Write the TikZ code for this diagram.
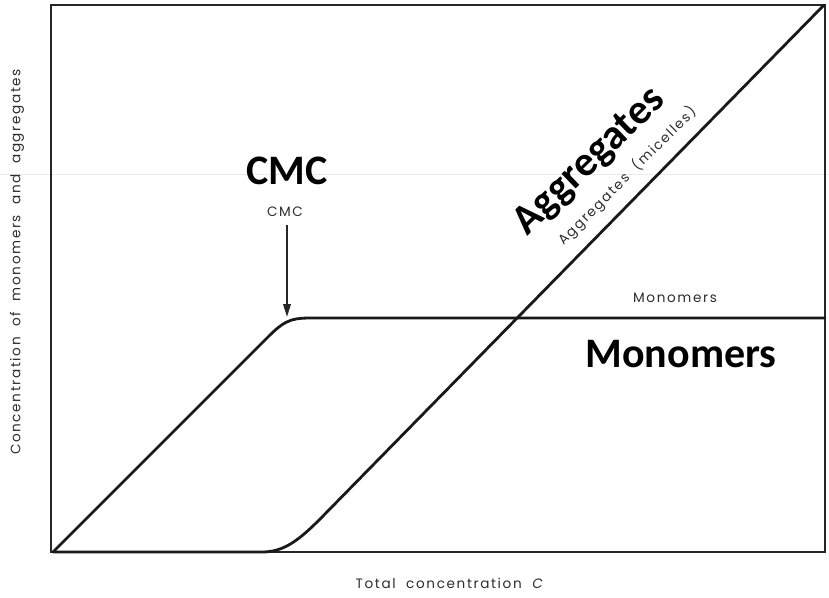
\documentclass[tikz,border=0pt]{standalone}
\usepackage{fontspec}
\setmainfont{Carlito}
\newfontfamily\lblfont[LetterSpace=12]{Poppins}
\usetikzlibrary{arrows.meta}
\begin{document}
\begin{tikzpicture}[x=1pt,y=-1pt,
  axisline/.style={line width=1.4pt,draw=black!85},
  curve/.style={line width=2.8pt,draw=black!90,line join=round,line cap=round},
  small/.style={font=\lblfont\fontsize{13.6}{16}\selectfont,text=black!82,inner sep=0pt},
  big/.style={font=\bfseries\fontsize{42}{48}\selectfont,text=black,inner sep=0pt}]
\useasboundingbox[fill=white] (0,0) rectangle (829,597);
\draw[black!8,line width=0.8pt] (0,174) -- (829,174);
% frame
\draw[axisline] (51,5) rectangle (825,552);
% monomer curve
\draw[curve] (53,552) -- (270,335) .. controls (287,318) and (295,318) .. (315,318) -- (825,318);
% aggregate curve
\draw[curve] (53,552) -- (262,552) .. controls (285,552) and (300.5,539) .. (324,515) -- (824,5);
% labels
\node[small] (cmcs) at (285,212) {CMC};
\coordinate (cmctip) at (287,317);
\draw[line width=1.9pt,black!85,-{Triangle[length=13pt,width=7.5pt]}] (cmcs.south) ++(2,8) -- (cmctip);
\node[small] (mons) at (675,298) {Monomers};
\node[small,rotate=45] (aggs) at (627,176) {Aggregates\ \ (micelles)};
\node[small,rotate=90] (ylab) at (17,262) {Concentration\ \ of\ \ monomers\ \ and\ \ aggregates};
\node[small] (xlab) at (450,583) {Total\ \ concentration\ \ \textit{C}};
\node[big] (cmcb) at (287,171) {CMC};
\node[big] (monb) at (681,354) {Monomers};
\node[big,rotate=44] (aggb) at (590,162) {Aggregates};
\end{tikzpicture}
\end{document}
